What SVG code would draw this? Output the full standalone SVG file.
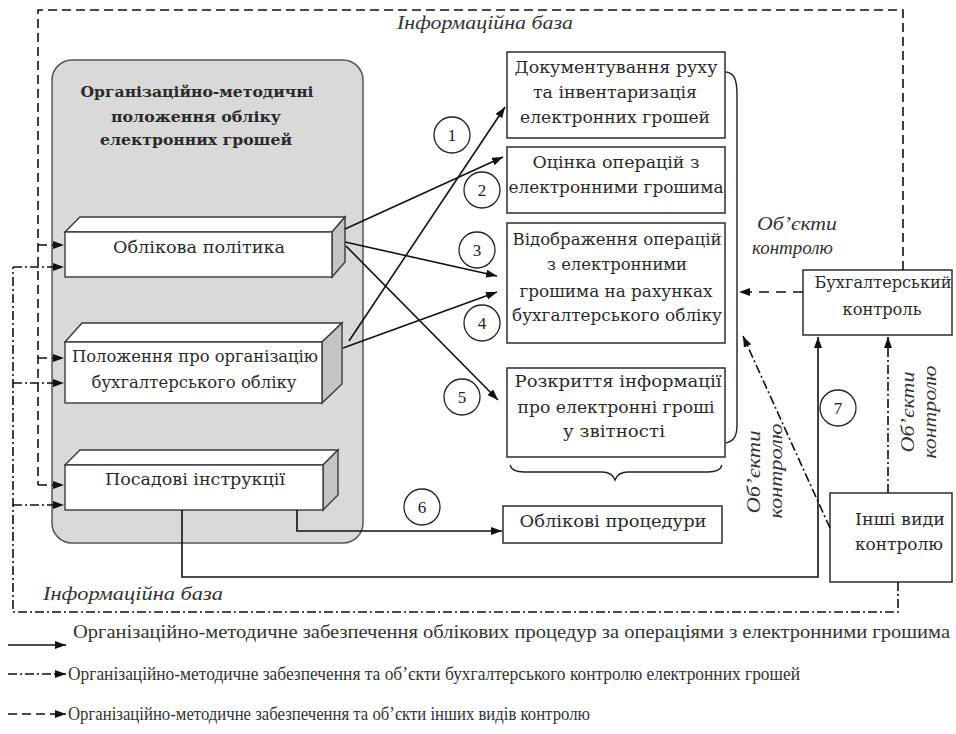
<svg xmlns="http://www.w3.org/2000/svg" width="956" height="734" viewBox="0 0 956 734">
<defs>
<style>
.bg{fill:#fff}
.grp{fill:#d9d9d9;stroke:#555;stroke-width:1.5}
.box{fill:#fff;stroke:#3a3a3a;stroke-width:1.6}
.face{fill:#fff;stroke:#3a3a3a;stroke-width:1.4}
.side{fill:#c4c4c4;stroke:#3a3a3a;stroke-width:1.4}
.t{font-family:"DejaVu Serif","Liberation Serif",serif;font-size:16.5px;fill:#2a2a2a;text-anchor:middle}
.tb{font-family:"DejaVu Serif","Liberation Serif",serif;font-size:15px;font-weight:bold;fill:#2a2a2a;text-anchor:middle}
.it{font-family:"Liberation Serif","DejaVu Serif",serif;font-style:italic;font-weight:normal;font-size:18px;fill:#333}
.num{font-family:"Liberation Serif",serif;font-size:17px;fill:#222;text-anchor:middle}
.lg{font-family:"Liberation Serif",serif;font-weight:normal;font-size:18px;fill:#333}
.c{fill:#fff;stroke:#222;stroke-width:1.3}
.ln{fill:none;stroke:#111;stroke-width:1.6}
.dash{stroke-dasharray:9 5}
.dl{stroke-dasharray:10 7}
.dd{stroke-dasharray:9 3 2 3}
.br{fill:none;stroke:#222;stroke-width:1.4}
</style>
<marker id="ah" markerUnits="userSpaceOnUse" markerWidth="12" markerHeight="10" refX="11" refY="4" orient="auto">
<path d="M0,0 L11,4 L0,8 z" fill="#111"/>
</marker>
</defs>
<rect class="bg" x="0" y="0" width="956" height="734"/>

<g id="group-org">
<rect class="grp" x="52" y="60" width="311" height="483" rx="20"/>
<text class="tb" x="197" y="97" textLength="233" lengthAdjust="spacingAndGlyphs">Організаційно-методичні</text>
<text class="tb" x="196" y="122" textLength="170" lengthAdjust="spacingAndGlyphs">положення обліку</text>
<text class="tb" x="196" y="145" textLength="192" lengthAdjust="spacingAndGlyphs">електронних грошей</text>
</g>

<g id="node-oblikova">
<polygon class="face" points="65,232 80,217 345,217 332,232"/>
<polygon class="side" points="332,232 345,217 345,262 332,277"/>
<rect class="face" x="65" y="232" width="267" height="45"/>
<text class="t" x="199" y="253" textLength="172" lengthAdjust="spacingAndGlyphs">Облікова політика</text>
</g>

<g id="node-polozhennya">
<polygon class="face" points="65,342 82,323 342,323 322,342"/>
<polygon class="side" points="322,342 342,323 342,384 322,403"/>
<rect class="face" x="65" y="342" width="257" height="61"/>
<text class="t" x="195" y="362" textLength="246" lengthAdjust="spacingAndGlyphs">Положення про організацію</text>
<text class="t" x="194" y="388" textLength="205" lengthAdjust="spacingAndGlyphs">бухгалтерського обліку</text>
</g>

<g id="node-posadovi">
<polygon class="face" points="65,465 80,450 338,450 323,465"/>
<polygon class="side" points="323,465 338,450 338,495 323,510"/>
<rect class="face" x="65" y="465" width="258" height="45"/>
<text class="t" x="195" y="485" textLength="180" lengthAdjust="spacingAndGlyphs">Посадові інструкції</text>
</g>

<g id="node-doc">
<rect class="box" x="507" y="52" width="218" height="86"/>
<text class="t" x="616" y="73" textLength="203" lengthAdjust="spacingAndGlyphs">Документування руху</text>
<text class="t" x="615" y="98" textLength="164" lengthAdjust="spacingAndGlyphs">та інвентаризація</text>
<text class="t" x="615" y="123" textLength="190" lengthAdjust="spacingAndGlyphs">електронних грошей</text>
</g>

<g id="node-otsinka">
<rect class="box" x="507" y="147" width="218" height="66"/>
<text class="t" x="616" y="168" textLength="167" lengthAdjust="spacingAndGlyphs">Оцінка операцій з</text>
<text class="t" x="616" y="193" textLength="215" lengthAdjust="spacingAndGlyphs">електронними грошима</text>
</g>

<g id="node-vidobr">
<rect class="box" x="507" y="223" width="218" height="120"/>
<text class="t" x="617" y="245" textLength="209" lengthAdjust="spacingAndGlyphs">Відображення операцій</text>
<text class="t" x="617" y="270" textLength="140" lengthAdjust="spacingAndGlyphs">з електронними</text>
<text class="t" x="616" y="297" textLength="193" lengthAdjust="spacingAndGlyphs">грошима на рахунках</text>
<text class="t" x="617" y="321" textLength="210" lengthAdjust="spacingAndGlyphs">бухгалтерського обліку</text>
</g>

<g id="node-rozkr">
<rect class="box" x="507" y="368" width="218" height="89"/>
<text class="t" x="618" y="387" textLength="207" lengthAdjust="spacingAndGlyphs">Розкриття інформації</text>
<text class="t" x="616" y="413" textLength="197" lengthAdjust="spacingAndGlyphs">про електронні гроші</text>
<text class="t" x="614" y="437" textLength="102" lengthAdjust="spacingAndGlyphs">у звітності</text>
</g>

<g id="node-procedury">
<rect class="box" x="503" y="506" width="219" height="37"/>
<text class="t" x="613" y="527" textLength="187" lengthAdjust="spacingAndGlyphs">Облікові процедури</text>
</g>

<g id="node-buh">
<rect class="box" x="803" y="270" width="149" height="65"/>
<text class="t" x="883" y="288" textLength="137" lengthAdjust="spacingAndGlyphs">Бухгалтерський</text>
<text class="t" x="882" y="315" textLength="79" lengthAdjust="spacingAndGlyphs">контроль</text>
</g>

<g id="node-inshi">
<rect class="box" x="830" y="493" width="122" height="89"/>
<text class="t" x="900" y="525" textLength="90" lengthAdjust="spacingAndGlyphs">Інші види</text>
<text class="t" x="899" y="550" textLength="88" lengthAdjust="spacingAndGlyphs">контролю</text>
</g>

<g id="braces">
<path class="br" d="M726,72 C734,73 737,79 737,95 L737,425 C737,436 734,441 726,443"/>
<path class="br" d="M510,465 Q512,472 524,472 L602,472 Q612,472 615,480 Q618,472 628,472 L708,472 Q720,472 722,465"/>
</g>

<g id="labels">
<text class="it" x="397" y="29" textLength="176" lengthAdjust="spacingAndGlyphs">Інформаційна база</text>
<text class="it" x="43" y="600" textLength="180" lengthAdjust="spacingAndGlyphs">Інформаційна база</text>
<text class="it" x="757" y="230" textLength="80" lengthAdjust="spacingAndGlyphs">Об’єкти</text>
<text class="it" x="752" y="254" textLength="81" lengthAdjust="spacingAndGlyphs">контролю</text>
<text class="it" transform="translate(760,472) rotate(-90)" text-anchor="middle" textLength="83" lengthAdjust="spacingAndGlyphs">Об’єкти</text>
<text class="it" transform="translate(782,471) rotate(-90)" text-anchor="middle" textLength="95" lengthAdjust="spacingAndGlyphs">контролю</text>
<text class="it" transform="translate(914,412) rotate(-90)" text-anchor="middle" textLength="81" lengthAdjust="spacingAndGlyphs">Об’єкти</text>
<text class="it" transform="translate(936,412) rotate(-90)" text-anchor="middle" textLength="93" lengthAdjust="spacingAndGlyphs">контролю</text>
</g>

<g id="connectors">
<path class="ln dash" d="M903,270 L903,10 L38,10 L38,485"/>
<line class="ln dash" x1="38" y1="245" x2="64" y2="245" marker-end="url(#ah)"/>
<line class="ln dash" x1="38" y1="358" x2="64" y2="358" marker-end="url(#ah)"/>
<line class="ln dash" x1="38" y1="485" x2="64" y2="485" marker-end="url(#ah)"/>
<path class="ln dd" d="M898,582 L898,612 L13,612 L13,267"/>
<line class="ln dd" x1="13" y1="267" x2="64" y2="267" marker-end="url(#ah)"/>
<line class="ln dd" x1="13" y1="383" x2="64" y2="383" marker-end="url(#ah)"/>
<line class="ln dd" x1="13" y1="505" x2="64" y2="505" marker-end="url(#ah)"/>
<line class="ln" x1="349" y1="341" x2="505" y2="107" marker-end="url(#ah)"/>
<line class="ln" x1="345" y1="229" x2="503" y2="157" marker-end="url(#ah)"/>
<line class="ln" x1="345" y1="242" x2="497" y2="276" marker-end="url(#ah)"/>
<line class="ln" x1="343" y1="348" x2="497" y2="292" marker-end="url(#ah)"/>
<line class="ln" x1="346" y1="246" x2="498" y2="400" marker-end="url(#ah)"/>
<path class="ln" d="M297,510 L297,531 L502,531" marker-end="url(#ah)"/>
<path class="ln" d="M182,510 L182,577 L818,577 L818,337" marker-end="url(#ah)"/>
<line class="ln dl" x1="803" y1="292" x2="739" y2="292" marker-end="url(#ah)"/>
<line class="ln dd" x1="830" y1="528" x2="743" y2="336" marker-end="url(#ah)"/>
<line class="ln dd" x1="888" y1="493" x2="888" y2="337" marker-end="url(#ah)"/>
</g>

<g id="numbers">
<circle class="c" cx="452" cy="135" r="18"/><text class="num" x="452" y="141">1</text>
<circle class="c" cx="482" cy="190" r="18"/><text class="num" x="482" y="196">2</text>
<circle class="c" cx="477" cy="250" r="18"/><text class="num" x="477" y="256">3</text>
<circle class="c" cx="482" cy="323" r="18"/><text class="num" x="482" y="329">4</text>
<circle class="c" cx="462" cy="397" r="18"/><text class="num" x="462" y="403">5</text>
<circle class="c" cx="422" cy="507" r="18"/><text class="num" x="422" y="513">6</text>
<circle class="c" cx="838" cy="408" r="18"/><text class="num" x="838" y="414">7</text>
</g>

<g id="legend">
<line class="ln" x1="8" y1="645" x2="66" y2="645" marker-end="url(#ah)"/>
<text class="lg" x="73" y="638" textLength="877" lengthAdjust="spacingAndGlyphs">Організаційно-методичне забезпечення облікових процедур за операціями з електронними грошима</text>
<line class="ln dd" x1="8" y1="674" x2="66" y2="674" marker-end="url(#ah)"/>
<text class="lg" x="68" y="680" textLength="732" lengthAdjust="spacingAndGlyphs">Організаційно-методичне забезпечення та об’єкти бухгалтерського контролю електронних грошей</text>
<line class="ln dash" x1="8" y1="714" x2="66" y2="714" marker-end="url(#ah)"/>
<text class="lg" x="68" y="720" textLength="522" lengthAdjust="spacingAndGlyphs">Організаційно-методичне забезпечення та об’єкти інших видів контролю</text>
</g>
</svg>
